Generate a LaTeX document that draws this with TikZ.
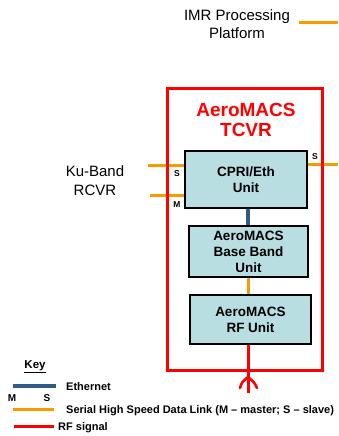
\documentclass[tikz,border=0pt]{standalone}
\usepackage{fontspec}
\setmainfont{Liberation Sans}
\definecolor{rfred}{HTML}{FF0000}
\definecolor{serorange}{HTML}{F89A00}
\definecolor{ethblue}{HTML}{2E5B87}
\definecolor{unitfill}{HTML}{B8DEE2}
\begin{document}
\begin{tikzpicture}[x=1pt,y=-1pt,
  unit/.style={draw=black,line width=2.6pt,fill=unitfill,align=center,inner sep=0pt,
    font=\fontsize{13.5}{16}\selectfont\bfseries},
  ser/.style={draw=serorange,line width=3pt},
  eth/.style={draw=ethblue,line width=3.2pt},
  rf/.style={draw=rfred,line width=3pt},
  lbl/.style={inner sep=0pt,align=center},
  tiny/.style={inner sep=0pt,font=\fontsize{8.5}{9}\selectfont\bfseries},
  keytxt/.style={inner sep=0pt,anchor=west,font=\fontsize{11}{12}\selectfont\bfseries}]
\useasboundingbox (0,0) rectangle (338,436);
% titles
\node[lbl,font=\fontsize{15}{18}\selectfont] (imr) at (237,24) {IMR Processing\\Platform};
\coordinate (imrA) at (299,23);
\coordinate (imrB) at (338,23);
\draw[ser] (imrA) -- (imrB);
\node[lbl,font=\fontsize{15}{19}\selectfont] (ku) at (95,180.5) {Ku-Band\\RCVR};
% units
\node[unit,minimum width=122pt,minimum height=57pt] (cpri) at (246,179.5) {CPRI/Eth\\Unit};
\node[unit,minimum width=119pt,minimum height=51pt] (bb) at (248.5,251.5) {AeroMACS\\Base Band\\Unit};
\node[unit,minimum width=121pt,minimum height=49pt] (rf) at (250.5,319.5) {AeroMACS\\RF Unit};
% serial links at CPRI
\coordinate (kuS) at (148,165);
\coordinate (kuM) at (150,195);
\coordinate (outS) at (338,164);
\draw[ser] (kuS) -- (cpri.west |- kuS);
\draw[ser] (kuM) -- (cpri.west |- kuM);
\draw[ser] (cpri.east |- outS) -- (outS);
% TCVR box
\node[draw=rfred,line width=3pt,minimum width=155pt,minimum height=282pt,inner sep=0pt] (tcvr) at (244.5,229) {};
\node[lbl,text=rfred,font=\fontsize{19}{20}\selectfont\bfseries] (title) at (246,120) {AeroMACS\\TCVR};
\node[tiny] (s1) at (177,174) {S};
\node[tiny] (m1) at (177,205) {M};
\node[tiny] (s2) at (315,157) {S};
% internal connectors
\draw[eth] ([xshift=2pt]cpri.south) -- ([xshift=2pt]cpri.south |- bb.north);
\draw[ser] (bb.south) -- (bb.south |- rf.north);
\draw[rf] ([xshift=-2pt]rf.south) -- ([xshift=-2pt]rf.south |- tcvr.south);
% antenna
\coordinate (antTop) at (248,370);
\coordinate (antBot) at (248,393);
\coordinate (antTip) at (248,377);
\draw[rf] (antTop) -- (antBot);
\draw[draw=rfred,line width=2.6pt,line cap=round] (240,388) .. controls (242,382) .. (antTip) .. controls (254,382) .. (257,388);
% key
\node[inner sep=0pt,font=\fontsize{11.5}{12}\selectfont\bfseries] (key) at (35,367) {\underline{Key}};
\coordinate (k1a) at (13,386); \coordinate (k1b) at (56,386);
\draw[eth] (k1a) -- (k1b);
\node[keytxt] (k1t) at (66,387) {Ethernet};
\node[tiny,font=\fontsize{10}{10}\selectfont\bfseries] (km) at (12,398) {M};
\node[tiny,font=\fontsize{10}{10}\selectfont\bfseries] (ks) at (47,398) {S};
\coordinate (k2a) at (13,409); \coordinate (k2b) at (54,409);
\draw[ser] (k2a) -- (k2b);
\node[keytxt] (k2t) at (66,411) {Serial High Speed Data Link (M – master; S – slave)};
\coordinate (k3a) at (14,426); \coordinate (k3b) at (54,426);
\draw[rf] (k3a) -- (k3b);
\node[keytxt] (k3t) at (58,428) {RF signal};
\end{tikzpicture}
\end{document}
